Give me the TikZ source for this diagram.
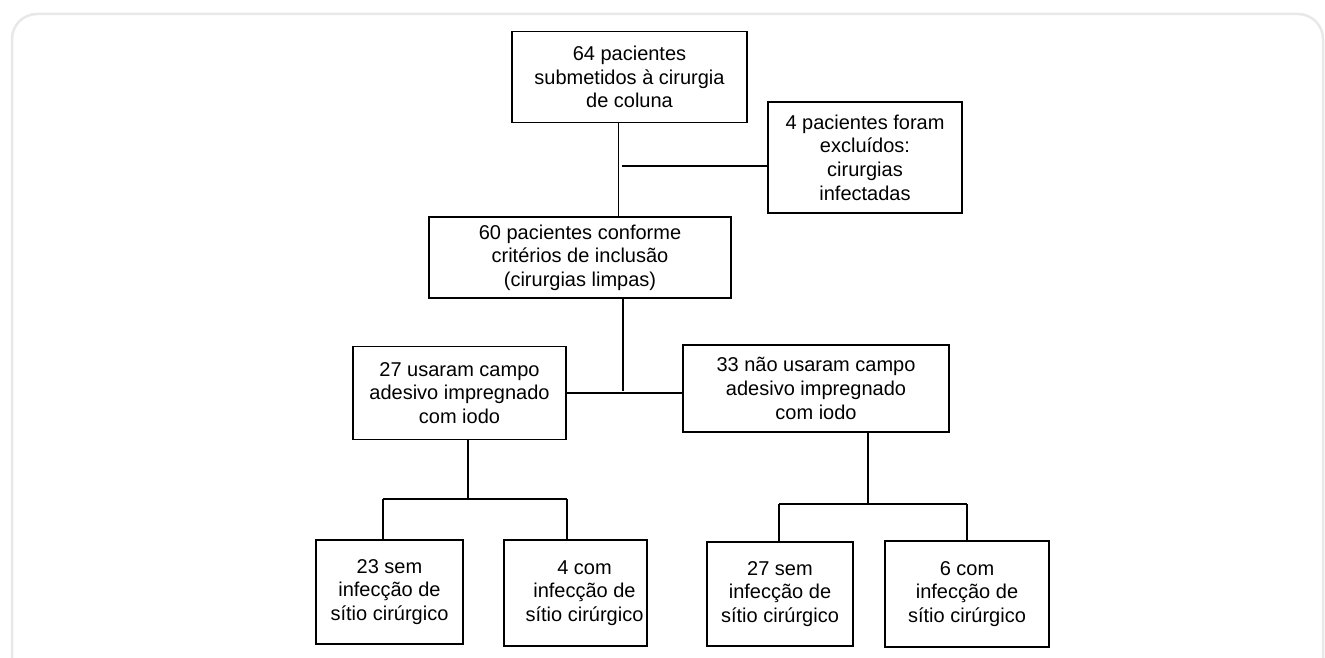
\documentclass[tikz,border=0pt]{standalone}
\usepackage{fontspec}
\setmainfont{Liberation Sans}
\usetikzlibrary{positioning}

\tikzset{
  caixa/.style={draw, line width=1.5pt, inner sep=0pt, align=center,
    font=\fontsize{20}{23.6}\selectfont},
  liga/.style={line width=1.5pt}
}

\begin{document}
\begin{tikzpicture}[x=1pt, y=-1pt]
		\useasboundingbox (0,0) rectangle (1325,658);
		\clip (0,0) rectangle (1325,658);
		\draw[gray!18, line width=2.5pt, rounded corners=25pt] (12,14) rectangle (1323,720);
		% caixas
		\node[caixa, minimum width=235pt, minimum height=91pt] (total) at (629.5,77) {64 pacientes\\submetidos à cirurgia\\de coluna};
		\node[caixa, minimum width=194pt, minimum height=111pt] (excl) at (865,157.5) {4 pacientes foram\\excluídos:\\cirurgias\\infectadas};
		\node[caixa, minimum width=302pt, minimum height=81pt] (incl) at (580,257.5) {60 pacientes conforme\\critérios de inclusão\\(cirurgias limpas)};
		\node[caixa, minimum width=213pt, minimum height=93pt] (usaram) at (459.5,393) {27 usaram campo\\adesivo impregnado\\com iodo};
		\node[caixa, minimum width=266pt, minimum height=87pt] (naousaram) at (816,388.5) {33 não usaram campo\\adesivo impregnado\\com iodo};
		\node[caixa, minimum width=147pt, minimum height=104pt] (usemi) at (389.5,592) {23 sem\\infecção de\\sítio cirúrgico};
		\node[caixa, minimum width=143pt, minimum height=106pt] (ucomi) at (575.5,593) {\hspace*{18pt}4 com\\\hspace*{18pt}infecção de\\\hspace*{18pt}sítio cirúrgico};
		\node[caixa, minimum width=146pt, minimum height=104pt] (nsemi) at (780,594) {27 sem\\infecção de\\sítio cirúrgico};
		\node[caixa, minimum width=164pt, minimum height=106pt] (ncomi) at (967,594) {6 com\\infecção de\\sítio cirúrgico};
		% pontos de ligacao
		\coordinate (t0) at (618.5,0);
		\coordinate (e0) at (622,166);
		\coordinate (t1) at (623,391);
		\coordinate (h1) at (0,393);
		\coordinate (t2) at (468,500);
		\coordinate (h2a) at (383,499);
		\coordinate (h2b) at (567,499);
		\coordinate (t3) at (868,503);
		\coordinate (h3a) at (779,504);
		\coordinate (h3b) at (967,504);
		% ligacoes
		\draw[liga] (total.south -| t0) -- (incl.north -| t0);
		\draw[liga] (e0) -- (excl.west |- e0);
		\draw[liga] (incl.south -| t1) -- (t1);
		\draw[liga] (usaram.east |- h1) -- (naousaram.west |- h1);
		\draw[liga] (usaram.south -| t2) -- (t2);
		\draw[liga] (h2a) -- (h2b);
		\draw[liga] (h2a) -- (usemi.north -| h2a);
		\draw[liga] (h2b) -- (ucomi.north -| h2b);
		\draw[liga] (naousaram.south -| t3) -- (t3);
		\draw[liga] (h3a) -- (h3b);
		\draw[liga] (h3a) -- (nsemi.north -| h3a);
		\draw[liga] (h3b) -- (ncomi.north -| h3b);
		\end{tikzpicture}
\end{document}
